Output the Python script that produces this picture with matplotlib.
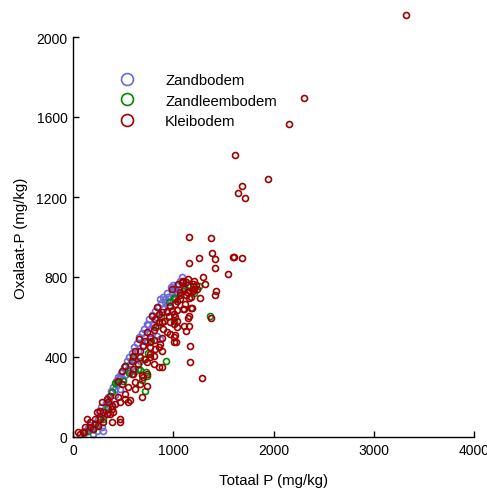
import matplotlib
matplotlib.use("Agg")
import matplotlib.pyplot as plt

plt.rcParams['font.family'] = ['Liberation Sans', 'DejaVu Sans']

# ---- data (Totaal P, Oxalaat-P in mg/kg) ----
zand_x = [110,130,150,170,190,203,220,237,250,270,287,300,303,320,330,340,350,360,380,390,
          400,420,430,440,450,470,480,500,510,520,540,550,560,570,590,600,610,620,640,650,
          660,670,690,700,710,720,737,747,760,770,790,800,820,830,850,860,880,900,920,937,
          950,960,987,1000,1010,1020,1040,1050,1070,1090,1100,1060,980,940,900,870,837,737,603,570,
          470,870,920,1030,1000,260,280,420,460,560]
zand_y = [20,30,45,60,50,15,70,32,90,100,48,110,32,140,170,120,200,180,230,160,
          250,210,280,260,300,240,320,290,350,310,380,340,400,360,420,390,450,330,470,430,
          500,380,520,460,540,500,565,562,590,520,610,560,630,600,650,610,670,640,690,682,
          700,660,723,700,740,690,760,720,780,800,760,740,750,720,700,690,507,473,382,365,
          307,490,673,715,760,130,150,240,290,330]

leem_x = [930,670,730,687,720,420,500,1143,1260,1163,1020,1367,1003,520,737,437,650,387,300,1007,
          953,837,707,753,200,250,600,880,560,350,1210,1100,780,150]
leem_y = [380,337,325,285,230,270,282,760,753,757,693,607,582,355,307,273,340,223,90,693,
          673,557,390,420,40,60,400,600,320,150,720,730,480,30]

klei_x = [3320,2300,2150,1620,1950,1690,1650,1720,1160,1373,1383,1413,1253,1160,1417,1593,1605,1690,1550,1297,
          1317,1427,1417,1267,1380,1150,1160,1123,1010,1023,1167,1167,1287,1173,1187,1103,1200,1087,1130,1203,
          1170,1103,1063,1137,1153,1037,1020,1097,837,970,937,887,853,987,1037,787,953,1003,1153,903,
          970,1037,1103,853,820,937,887,1003,1037,737,803,937,1020,1003,663,720,770,803,887,703,
          770,853,887,620,670,603,670,770,803,587,737,803,887,853,520,487,603,687,737,603,
          453,487,620,703,737,520,553,570,470,687,287,337,370,353,387,237,270,303,370,403,
          387,470,470,137,170,120,103,53,203,253,303,220,110,70,170,220,270,340,390,420,
          450,520,550,620,670,590,650,720,770,820,870,770,900,970,820,1020,1070,1120,990,1050,
          1100,1150,1200,1210,1230,1240,1070,1180,1130]
klei_y = [2110,1695,1565,1410,1290,1255,1218,1197,1001,995,922,892,895,868,843,898,898,895,817,800,
          767,732,710,695,597,593,557,532,498,475,457,377,293,647,645,640,732,773,773,740,
          732,740,723,723,695,682,665,640,648,657,632,623,615,632,637,607,607,615,603,582,
          573,582,557,573,548,623,573,565,548,527,537,527,510,477,490,482,473,487,493,457,
          448,448,432,432,432,407,398,398,407,382,373,365,348,348,357,332,315,310,315,340,
          282,265,273,298,257,190,173,187,173,198,173,190,207,173,157,123,132,123,115,127,
          73,90,73,90,73,48,23,23,40,57,73,90,25,15,50,65,90,115,140,165,
          200,215,250,240,265,315,365,390,415,440,465,500,540,515,590,600,690,665,740,765,
          780,790,765,780,760,740,710,700,710]

series = [
    ("Zandbodem", zand_x, zand_y, "#6a6ad8"),
    ("Zandleembodem", leem_x, leem_y, "#008a00"),
    ("Kleibodem", klei_x, klei_y, "#a00000"),
]

fig = plt.figure(figsize=(4.87, 4.89), dpi=100)
ax = fig.add_axes([73/487, 51/489, 401/487, 400/489])

for name, xs, ys, col in series:
    ax.plot(xs, ys, linestyle="none", marker="o", markersize=4.3,
            markerfacecolor="none", markeredgecolor=col, markeredgewidth=1.2,
            label=name, clip_on=False)

ax.set_xlim(0, 4000)
ax.set_ylim(0, 2000)
ax.set_xticks([0, 1000, 2000, 3000, 4000])
ax.set_yticks([0, 400, 800, 1200, 1600, 2000])
ax.spines['top'].set_visible(False)
ax.spines['right'].set_visible(False)
ax.spines['left'].set_linewidth(1.0)
ax.spines['bottom'].set_linewidth(1.0)
ax.tick_params(direction='in', length=4, width=1, labelsize=10, pad=4)
ax.set_xlabel("Totaal P (mg/kg)", fontsize=10.8, labelpad=12)
ax.set_ylabel("Oxalaat-P (mg/kg)", fontsize=10.8, labelpad=6)

leg = ax.legend(loc="upper left", bbox_to_anchor=(0.1015, 0.924), frameon=False,
                markerscale=2.0, fontsize=10.7, handlelength=1.0, handletextpad=2.06,
                labelspacing=0.42, borderaxespad=0)

fig.savefig("out.png", dpi=100)
